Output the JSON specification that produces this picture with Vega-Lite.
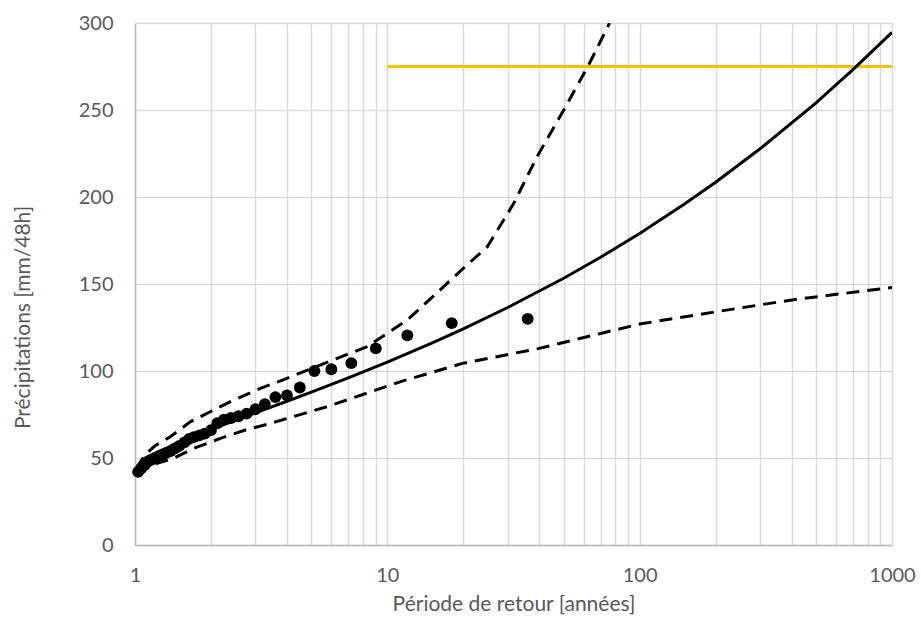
{
  "$schema": "https://vega.github.io/schema/vega-lite/v6.json",
  "width": 757,
  "height": 522,
  "autosize": {"type": "none"},
  "padding": {"left": 135, "top": 23, "right": 29, "bottom": 76},
  "background": "white",
  "config": {
    "view": {"stroke": null},
    "font": "Lato",
    "axis": {
      "labelFont": "Lato", "titleFont": "Lato",
      "labelColor": "#595959", "titleColor": "#595959",
      "labelFontSize": 20, "titleFontSize": 21, "titleFontWeight": "normal",
      "gridColor": "#d9d9d9", "gridWidth": 1.5,
      "domainColor": "#bfbfbf", "domainWidth": 1.5,
      "ticks": false
    }
  },
  "datasets": {
    "obs": [
      {"T": 1.029, "P": 42}, {"T": 1.059, "P": 44}, {"T": 1.091, "P": 46}, {"T": 1.125, "P": 48},
      {"T": 1.161, "P": 49}, {"T": 1.2, "P": 50}, {"T": 1.241, "P": 51}, {"T": 1.286, "P": 52},
      {"T": 1.333, "P": 53}, {"T": 1.385, "P": 54}, {"T": 1.44, "P": 55.5}, {"T": 1.5, "P": 57},
      {"T": 1.57, "P": 59}, {"T": 1.64, "P": 61}, {"T": 1.71, "P": 62}, {"T": 1.8, "P": 63},
      {"T": 1.89, "P": 64}, {"T": 2.0, "P": 66}, {"T": 2.12, "P": 70}, {"T": 2.25, "P": 72},
      {"T": 2.4, "P": 73}, {"T": 2.57, "P": 74}, {"T": 2.77, "P": 75.5}, {"T": 3.0, "P": 78},
      {"T": 3.27, "P": 81}, {"T": 3.6, "P": 85}, {"T": 4.0, "P": 86}, {"T": 4.5, "P": 90.5},
      {"T": 5.14, "P": 100}, {"T": 6.0, "P": 101}, {"T": 7.2, "P": 104.5}, {"T": 9.0, "P": 113},
      {"T": 12.0, "P": 120.5}, {"T": 18.0, "P": 127.5}, {"T": 36.0, "P": 130}
    ],
    "fit": [
      {"T": 1.01, "P": 39.7}, {"T": 1.05, "P": 44.7}, {"T": 1.1, "P": 47.8}, {"T": 1.2, "P": 51.7},
      {"T": 1.3, "P": 54.6}, {"T": 1.5, "P": 58.9}, {"T": 1.75, "P": 63.0}, {"T": 2, "P": 66.4},
      {"T": 2.5, "P": 71.7}, {"T": 3, "P": 75.9}, {"T": 4, "P": 82.6}, {"T": 5, "P": 87.9},
      {"T": 7, "P": 96.0}, {"T": 10, "P": 105.1}, {"T": 15, "P": 116.0}, {"T": 20, "P": 124.2},
      {"T": 30, "P": 136.5}, {"T": 50, "P": 153.3}, {"T": 70, "P": 165.4}, {"T": 100, "P": 179.0},
      {"T": 150, "P": 195.8}, {"T": 200, "P": 208.5}, {"T": 300, "P": 227.7}, {"T": 500, "P": 254.1},
      {"T": 700, "P": 273.2}, {"T": 1000, "P": 294.6}
    ],
    "upper": [
      {"T": 1.01, "P": 44}, {"T": 1.1, "P": 52}, {"T": 1.2, "P": 57}, {"T": 1.38, "P": 62.2},
      {"T": 1.66, "P": 70.9}, {"T": 2.05, "P": 77.6}, {"T": 2.46, "P": 83.3}, {"T": 3.14, "P": 90},
      {"T": 4, "P": 95.8}, {"T": 6.33, "P": 107.3}, {"T": 8.32, "P": 114}, {"T": 12, "P": 129.3},
      {"T": 16.2, "P": 146.6}, {"T": 20, "P": 159}, {"T": 24.9, "P": 171.4}, {"T": 31.7, "P": 196.4},
      {"T": 39.2, "P": 223.2}, {"T": 50, "P": 250}, {"T": 62.8, "P": 275.9}, {"T": 76, "P": 300}
    ],
    "lower": [
      {"T": 1.01, "P": 42}, {"T": 1.2, "P": 46.5}, {"T": 1.42, "P": 49.8}, {"T": 1.71, "P": 55.6},
      {"T": 2.18, "P": 61.3}, {"T": 2.74, "P": 66.1}, {"T": 3.44, "P": 69.9}, {"T": 5.77, "P": 79.5},
      {"T": 11.3, "P": 93.9}, {"T": 20, "P": 104.5}, {"T": 40, "P": 113}, {"T": 72, "P": 122},
      {"T": 100, "P": 127}, {"T": 200, "P": 134}, {"T": 300, "P": 138}, {"T": 407, "P": 141},
      {"T": 1000, "P": 148}
    ],
    "seuil": [
      {"T": 10, "P": 275}, {"T": 1000, "P": 275}
    ]
  },
  "encoding": {
    "x": {
      "field": "T", "type": "quantitative",
      "scale": {"type": "log", "domain": [1, 1000], "nice": false},
      "axis": {
        "title": "Période de retour [années]",
        "values": [1,2,3,4,5,6,7,8,9,10,20,30,40,50,60,70,80,90,100,200,300,400,500,600,700,800,900,1000],
        "format": "d",
        "labelExpr": "(datum.value == 1 || datum.value == 10 || datum.value == 100 || datum.value == 1000) ? datum.label : ''",
        "labelPadding": 20,
        "titlePadding": 8,
        "labelFlush": false,
        "labelOverlap": false
      }
    },
    "y": {
      "field": "P", "type": "quantitative",
      "scale": {"domain": [0, 300], "nice": false},
      "axis": {
        "title": "Précipitations [mm/48h]",
        "values": [0, 50, 100, 150, 200, 250, 300],
        "labelPadding": 22,
        "titleX": -112,
        "titleY": 294,
        "titleAngle": 270,
        "titleBaseline": "middle",
        "titleAlign": "center"
      }
    }
  },
  "layer": [
    {
      "data": {"name": "seuil"},
      "mark": {"type": "line", "color": "#FFC000", "strokeWidth": 3, "clip": true}
    },
    {
      "data": {"name": "upper"},
      "mark": {"type": "line", "color": "black", "strokeWidth": 3, "strokeDash": [13, 8], "clip": true}
    },
    {
      "data": {"name": "lower"},
      "mark": {"type": "line", "color": "black", "strokeWidth": 3, "strokeDash": [13, 8], "clip": true}
    },
    {
      "data": {"name": "fit"},
      "mark": {"type": "line", "color": "black", "strokeWidth": 3, "clip": true}
    },
    {
      "data": {"name": "obs"},
      "mark": {"type": "circle", "color": "black", "opacity": 1, "size": 140}
    }
  ]
}
